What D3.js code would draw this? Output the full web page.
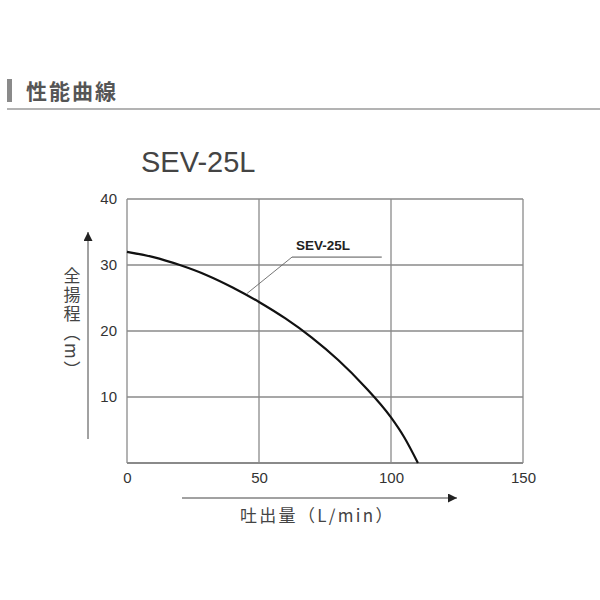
<!DOCTYPE html>
<html><head><meta charset="utf-8">
<script src="https://cdn.jsdelivr.net/npm/d3@7"></script>
<style>body{margin:0;background:#fff;}svg{display:block;}</style>
</head><body>
<svg id="c" width="600" height="600"></svg>
<script>
const sectionTitle = "性能曲線";
const chartTitle = "SEV-25L";
const seriesName = "SEV-25L";
const flow = [0, 10, 20, 30, 40, 50, 60, 70, 80, 90, 100, 105, 110.2];
const head = [32, 31.2, 30.0, 28.5, 26.6, 24.4, 21.9, 19.0, 15.6, 11.6, 6.9, 3.9, 0];
const xTicks = [0, 50, 100, 150];
const yTicks = [10, 20, 30, 40];
const xLabel = "吐出量（L/min）";
const yLabel = "全揚程（m）";

const svg = d3.select("#c");
const font = "'Liberation Sans', Arial, 'Noto Sans CJK JP', sans-serif";
const cjk = "'Noto Sans CJK JP', sans-serif";

// section header
svg.append("rect").attr("x",7).attr("y",79).attr("width",5).attr("height",23).attr("fill","#8a8a8a");
svg.append("text").attr("x",26).attr("y",99).text(sectionTitle)
  .attr("font-family",cjk).attr("font-size",21).attr("font-weight","bold").attr("fill","#555")
  .attr("letter-spacing",2);
svg.append("line").attr("x1",7).attr("x2",600).attr("y1",109).attr("y2",109)
  .attr("stroke","#9a9a9a").attr("stroke-width",1.5);

// chart title
svg.append("text").attr("x",141).attr("y",172).text(chartTitle)
  .attr("font-family",font).attr("font-size",29).attr("fill","#444");

const x = d3.scaleLinear().domain([0,150]).range([127,523]);
const y = d3.scaleLinear().domain([0,40]).range([463,199]);

const g = svg.append("g");
// grid
g.selectAll(".vg").data(xTicks).join("line")
  .attr("x1",d=>x(d)).attr("x2",d=>x(d)).attr("y1",y(40)).attr("y2",y(0))
  .attr("stroke","#8a8a8a").attr("stroke-width",1.3);
g.selectAll(".hg").data(yTicks.concat([0])).join("line")
  .attr("x1",x(0)).attr("x2",x(150)).attr("y1",d=>y(d)).attr("y2",d=>y(d))
  .attr("stroke","#8a8a8a").attr("stroke-width",d=>d===0?2:1.3);

// axes tick labels via d3 axes
const xAxis = svg.append("g").attr("transform",`translate(0,${y(0)})`)
  .call(d3.axisBottom(x).tickValues(xTicks).tickSize(0).tickPadding(9));
const yAxis = svg.append("g").attr("transform",`translate(${x(0)},0)`)
  .call(d3.axisLeft(y).tickValues(yTicks).tickSize(0).tickPadding(10));
[xAxis,yAxis].forEach(a=>{
  a.select(".domain").remove();
  a.selectAll("text").attr("font-family",font).attr("font-size",15).attr("fill","#333");
});

// curve
const pts = flow.map((f,i)=>[f,head[i]]);
svg.append("path").datum(pts)
  .attr("d", d3.line().x(d=>x(d[0])).y(d=>y(d[1])).curve(d3.curveMonotoneX))
  .attr("fill","none").attr("stroke","#111").attr("stroke-width",2.2);

// series label with leader
const lx = x(62.5), ly = y(31.2);
svg.append("text").attr("x",lx+4).attr("y",ly-7).text(seriesName)
  .attr("font-family",font).attr("font-size",13.5).attr("font-weight","bold").attr("fill","#222");
svg.append("line").attr("x1",lx).attr("x2",x(96.5)).attr("y1",ly).attr("y2",ly)
  .attr("stroke","#555").attr("stroke-width",1);
svg.append("line").attr("x1",lx).attr("y1",ly).attr("x2",x(45.5)).attr("y2",y(25.7))
  .attr("stroke","#666").attr("stroke-width",0.9);

// arrows
const defs = svg.append("defs");
defs.append("marker").attr("id","ah").attr("viewBox","0 0 10 10").attr("refX",10).attr("refY",5)
  .attr("markerWidth",18).attr("markerHeight",9).attr("markerUnits","userSpaceOnUse").attr("orient","auto")
  .append("path").attr("d","M0,0L10,5L0,10Z").attr("fill","#222");
svg.append("line").attr("x1",182).attr("x2",457).attr("y1",498).attr("y2",498)
  .attr("stroke","#444").attr("stroke-width",1).attr("marker-end","url(#ah)");
svg.append("line").attr("x1",88).attr("x2",88).attr("y1",439).attr("y2",232)
  .attr("stroke","#444").attr("stroke-width",1).attr("marker-end","url(#ah)");

// axis titles
svg.append("text").attr("x",240).attr("y",522).text(xLabel)
  .attr("font-family",cjk).attr("font-size",17).attr("fill","#444").attr("letter-spacing",2.3);
svg.append("text").attr("x",72).attr("y",267).text(yLabel)
  .attr("font-family",cjk).attr("font-size",17).attr("fill","#444").attr("letter-spacing",2)
  .style("writing-mode","vertical-rl");
</script>
</body></html>
